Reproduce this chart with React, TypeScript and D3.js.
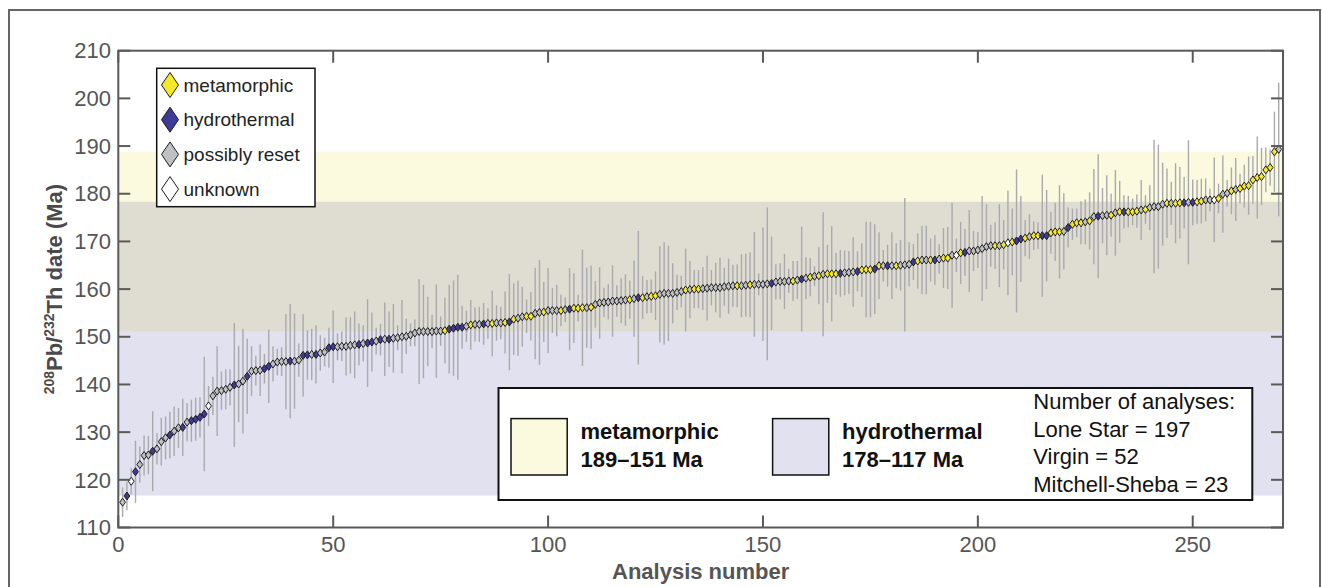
import React from 'react';
import * as d3 from 'd3';

// 208Pb/232Th dates (Ma), sorted, one per analysis
const dates = [
  115.3, 116.6, 119.7, 121.7, 123.2, 125.1, 125.2, 126.0, 126.5, 128.0,
  128.8, 129.4, 130.2, 130.9, 131.0, 132.1, 132.4, 132.7, 133.1, 133.8,
  135.5, 137.6, 138.6, 138.7, 139.0, 139.4, 139.9, 140.1, 140.7, 141.7,
  142.8, 142.9, 143.0, 143.3, 143.8, 144.3, 144.7, 144.8, 144.8, 144.9,
  144.9, 145.1, 146.1, 146.2, 146.3, 146.3, 146.6, 146.8, 147.7, 147.9,
  147.9, 148.0, 148.0, 148.2, 148.3, 148.4, 148.6, 148.7, 148.9, 149.1,
  149.4, 149.5, 149.5, 149.7, 149.8, 150.0, 150.1, 150.4, 150.8, 151.1,
  151.1, 151.1, 151.1, 151.2, 151.2, 151.3, 151.6, 151.8, 152.0, 152.0,
  152.2, 152.5, 152.6, 152.6, 152.7, 152.8, 152.8, 152.9, 152.9, 153.0,
  153.1, 153.7, 153.9, 154.2, 154.3, 154.3, 154.9, 155.1, 155.2, 155.5,
  155.5, 155.5, 155.5, 155.7, 155.8, 156.0, 156.0, 156.1, 156.1, 156.2,
  156.8, 157.1, 157.2, 157.3, 157.5, 157.5, 157.6, 157.7, 157.8, 158.0,
  158.2, 158.2, 158.4, 158.5, 158.6, 158.9, 159.1, 159.1, 159.1, 159.3,
  159.5, 159.8, 159.9, 160.0, 160.0, 160.1, 160.2, 160.3, 160.3, 160.3,
  160.5, 160.6, 160.7, 160.7, 160.7, 160.8, 160.9, 161.0, 161.0, 161.0,
  161.1, 161.2, 161.5, 161.6, 161.6, 161.7, 161.7, 161.9, 162.1, 162.3,
  162.5, 162.7, 162.8, 163.1, 163.2, 163.2, 163.2, 163.3, 163.4, 163.5,
  163.6, 163.7, 164.0, 164.1, 164.1, 164.2, 164.9, 164.9, 164.9, 164.9,
  164.9, 165.0, 165.1, 165.2, 165.7, 165.9, 166.1, 166.1, 166.1, 166.1,
  166.3, 166.5, 166.5, 167.1, 167.1, 167.6, 167.7, 168.0, 168.0, 168.2,
  168.5, 168.9, 169.1, 169.1, 169.1, 169.3, 169.7, 169.9, 170.1, 170.5,
  170.7, 171.0, 171.2, 171.2, 171.2, 171.2, 171.8, 172.0, 172.0, 172.1,
  172.9, 173.6, 173.9, 173.9, 174.1, 174.3, 175.2, 175.3, 175.4, 175.5,
  175.5, 176.0, 176.2, 176.2, 176.2, 176.2, 176.35, 176.6, 176.7, 177.1,
  177.3, 177.3, 177.8, 178.0, 178.0, 178.0, 178.1, 178.1, 178.2, 178.2,
  178.3, 178.45, 178.7, 178.7, 178.7, 179.0, 179.9, 180.1, 180.6, 180.9,
  181.1, 181.6, 181.7, 182.9, 183.4, 183.6, 185.0, 185.5, 188.8, 189.3,
];

// 2-sigma uncertainty (Ma)
const errors = [
  3.1, 3.0, 2.8, 6.5, 3.8, 4.2, 4.0, 8.4, 3.3, 5.0,
  4.5, 4.9, 5.2, 4.2, 6.0, 4.0, 4.4, 4.5, 4.2, 12.0,
  4.2, 4.0, 9.4, 4.0, 4.2, 3.8, 13.0, 8.0, 11.0, 7.9,
  5.2, 3.1, 5.4, 3.1, 7.7, 3.7, 2.8, 3.0, 10.0, 12.0,
  10.0, 3.5, 8.6, 5.2, 5.4, 6.1, 3.7, 3.0, 4.2, 7.6,
  2.8, 3.1, 6.1, 5.9, 7.0, 4.4, 3.8, 9.2, 6.2, 2.8,
  3.3, 7.7, 5.8, 7.2, 2.6, 7.7, 3.7, 2.4, 2.8, 11.0,
  9.8, 7.3, 3.5, 9.8, 3.1, 6.9, 9.3, 10.0, 11.0, 4.5,
  3.3, 5.2, 3.6, 3.7, 4.4, 3.2, 6.9, 3.7, 3.4, 6.5,
  10.1, 7.5, 7.9, 6.3, 3.5, 5.1, 9.6, 11.0, 6.3, 8.9,
  4.7, 5.4, 3.3, 2.6, 8.6, 7.3, 2.8, 12.2, 8.4, 8.7,
  4.9, 7.5, 3.1, 3.7, 7.5, 3.3, 4.7, 5.4, 4.0, 8.0,
  14.0, 4.5, 3.5, 3.5, 5.1, 10.1, 10.7, 10.0, 6.3, 3.7,
  3.3, 8.7, 6.0, 4.0, 4.0, 4.5, 6.8, 3.7, 5.2, 6.3,
  4.0, 5.8, 4.4, 4.5, 6.6, 6.6, 6.8, 11.0, 2.3, 11.9,
  16.0, 9.8, 3.7, 3.8, 5.8, 2.5, 4.2, 4.0, 11.0, 4.4,
  4.0, 2.1, 6.0, 13.0, 6.1, 10.0, 4.4, 4.9, 4.7, 4.5,
  7.3, 4.2, 5.6, 10.0, 10.0, 9.4, 7.0, 3.3, 4.4, 7.0,
  4.7, 5.3, 14.0, 4.6, 3.8, 5.8, 7.2, 7.2, 4.5, 5.2,
  3.1, 6.3, 6.5, 11.0, 3.5, 6.5, 4.9, 8.6, 4.2, 3.8,
  11.0, 8.9, 4.4, 4.9, 8.7, 5.2, 11.0, 7.0, 15.0, 9.0,
  3.8, 4.7, 3.0, 2.8, 12.8, 9.6, 4.4, 6.1, 9.8, 8.0,
  4.2, 3.3, 3.0, 4.5, 4.7, 6.0, 10.0, 13.0, 5.8, 8.4,
  4.5, 9.0, 6.5, 3.5, 3.3, 2.8, 3.5, 6.3, 3.0, 4.7,
  14.0, 13.0, 8.7, 7.3, 4.5, 8.4, 7.5, 5.4, 13.0, 4.8,
  4.6, 4.7, 4.5, 2.4, 8.9, 3.1, 8.1, 2.8, 4.9, 6.6,
  3.1, 4.5, 6.1, 5.0, 8.6, 6.0, 4.7, 3.8, 8.4, 14.0,
];

// m = metamorphic, h = hydrothermal, r = possibly reset, u = unknown
const typeRows = [
  'rhuhrrrhrr', 'rhrrhrhhhh', 'urrrrrhrrh', 'rrrhhrrrrh', 'rrhhrhrrhh',
  'rrrrrhrhhr', 'hrhrrrrrrr', 'rrrrrmhhhh', 'rmrrhrmrrm', 'hmrrmmrrmr',
  'rrmrhmmmrm', 'rrrrrrrrmr', 'hmrmmrrrrr', 'rmrmmrrrrr', 'rrrmrrmrrr',
  'rhrrrrmrhr', 'mrmrmmmhrr', 'rhmmmhmrhr', 'mrrrhmrrmh', 'rmmrumhrrr',
  'rrrmrmumhh', 'mrmmhhmmmr', 'hmmmrmrhrr', 'mrmhmmmrmr', 'rrrmrmmhrh',
  'mmrrumrrmr', 'mmmmmmmmmr',
];
const types = typeRows.join('').split('');

const markerKeys = ['m', 'h', 'r', 'u'];
const markerLabels = ['metamorphic', 'hydrothermal', 'possibly reset', 'unknown'];
const markerColors = ['#f3e82a', '#3e3b97', '#bfc0c4', '#ffffff'];

const xTicks = [0, 50, 100, 150, 200, 250];
const yTicks = [110, 120, 130, 140, 150, 160, 170, 180, 190, 200, 210];

const bandNames = ['metamorphic', 'hydrothermal'];
const bandRanges = ['189–151 Ma', '178–117 Ma'];
const bandLo = [151.2, 116.7];
const bandHi = [188.8, 178.3];
const bandColors = ['#fbfadf', '#e1e1ef'];
const overlapColor = '#dfddd2';

const countLines = ['Number of analyses:', 'Lone Star = 197', 'Virgin = 52', 'Mitchell-Sheba = 23'];

const FONT = 'Liberation Sans, Arial, Helvetica, sans-serif';
const W = 1322;
const H = 587;
const plot = { left: 118.3, right: 1283, top: 50.7, bottom: 527.5 };

const diamond = (w: number, h: number) => `M0,${-h}L${w},0L0,${h}L${-w},0Z`;

export default function App() {
  const x = d3.scaleLinear().domain([0, 271]).range([plot.left, plot.right]);
  const y = d3.scaleLinear().domain([110, 210]).range([plot.bottom, plot.top]);
  const color = d3.scaleOrdinal<string, string>().domain(markerKeys).range(markerColors);
  const points = dates.map((d, i) => ({ n: i + 1, d, e: errors[i], t: types[i] }));
  const tickLen = 12;
  const axisCol = '#5a5a5a';
  const labelCol = '#555';

  const bandRect = (lo: number, hi: number, fill: string, key: string) => (
    <rect key={key} x={plot.left} width={plot.right - plot.left}
      y={y(hi)} height={y(lo) - y(hi)} fill={fill} />
  );

  return (
    <svg width={W} height={H} style={{ position: 'absolute', left: 0, top: 0, background: '#fff' }}
      fontFamily={FONT}>
      <rect x={9} y={10} width={1311} height={620} fill="none" stroke="#666" strokeWidth={2} />

      {/* background age windows */}
      {bandRect(bandLo[0], bandHi[0], bandColors[0], 'b0')}
      {bandRect(bandLo[1], bandHi[1], bandColors[1], 'b1')}
      {bandRect(Math.max(bandLo[0], bandLo[1]), Math.min(bandHi[0], bandHi[1]), overlapColor, 'b2')}

      {/* error bars */}
      <g stroke="#a9a9ae" strokeWidth={1.4}>
        {points.map(p => (
          <line key={p.n} x1={x(p.n)} x2={x(p.n)} y1={y(p.d - p.e)} y2={y(p.d + p.e)} />
        ))}
      </g>

      {/* markers */}
      <g stroke="#1b1b1b" strokeWidth={1}>
        {points.map(p => (
          <path key={p.n} d={diamond(2.9, 4)} transform={`translate(${x(p.n)},${y(p.d)})`}
            fill={color(p.t)} />
        ))}
      </g>

      {/* axes box and ticks */}
      <g stroke={axisCol} strokeWidth={2} fill="none">
        <rect x={plot.left} y={plot.top} width={plot.right - plot.left} height={plot.bottom - plot.top} />
        {xTicks.map(t => (
          <g key={t}>
            <line x1={x(t)} x2={x(t)} y1={plot.bottom} y2={plot.bottom - tickLen} />
            <line x1={x(t)} x2={x(t)} y1={plot.top} y2={plot.top + tickLen} />
          </g>
        ))}
        {yTicks.map(t => (
          <g key={t}>
            <line x1={plot.left} x2={plot.left + tickLen} y1={y(t)} y2={y(t)} />
            <line x1={plot.right} x2={plot.right - tickLen} y1={y(t)} y2={y(t)} />
          </g>
        ))}
      </g>
      <g fill={labelCol} fontSize={22}>
        {xTicks.map(t => (
          <text key={t} x={x(t)} y={552} textAnchor="middle">{t}</text>
        ))}
        {yTicks.map(t => (
          <text key={t} x={111} y={y(t)} dy="0.35em" textAnchor="end">{t}</text>
        ))}
      </g>
      <text x={(plot.left + plot.right) / 2} y={579} textAnchor="middle" fontSize={22}
        fontWeight="bold" fill={labelCol}>Analysis number</text>
      <text transform={`translate(62,${(plot.top + plot.bottom) / 2}) rotate(-90)`} textAnchor="middle"
        fontSize={22} fontWeight="bold" fill="#4a4a4a">
        <tspan fontSize={14} baselineShift="super">208</tspan>
        <tspan>Pb/</tspan>
        <tspan fontSize={14} baselineShift="super">232</tspan>
        <tspan>Th date (Ma)</tspan>
      </text>

      {/* marker legend */}
      <rect x={156.7} y={68.3} width={158.3} height={138.4} fill="#fff" stroke="#111" strokeWidth={1.5} />
      {markerKeys.map((k, i) => {
        const cy = 85 + i * 34.7;
        return (
          <g key={k}>
            <path d={diamond(8.5, 12.5)} transform={`translate(170,${cy})`} fill={color(k)}
              stroke="#1b1b1b" strokeWidth={1} />
            <text x={183.5} y={cy} dy="0.35em" fontSize={19} fill="#222">{markerLabels[i]}</text>
          </g>
        );
      })}

      {/* band legend */}
      <rect x={498.5} y={388} width={753.8} height={112} fill="#fff" stroke="#111" strokeWidth={2} />
      {bandNames.map((name, i) => {
        const sx = i === 0 ? 511 : 772.6;
        return (
          <g key={name}>
            <rect x={sx} y={418.6} width={56.2} height={56.4} fill={bandColors[i]} stroke="#111" strokeWidth={1.5} />
            <text x={sx + 69.5} y={438.6} fontSize={22} fontWeight="bold" fill="#111">{name}</text>
            <text x={sx + 69.5} y={466.6} fontSize={22} fontWeight="bold" fill="#111">{bandRanges[i]}</text>
          </g>
        );
      })}
      {countLines.map((line, i) => (
        <text key={line} x={1033.3} y={409 + i * 27.6} fontSize={22} fill="#111">{line}</text>
      ))}
    </svg>
  );
}
